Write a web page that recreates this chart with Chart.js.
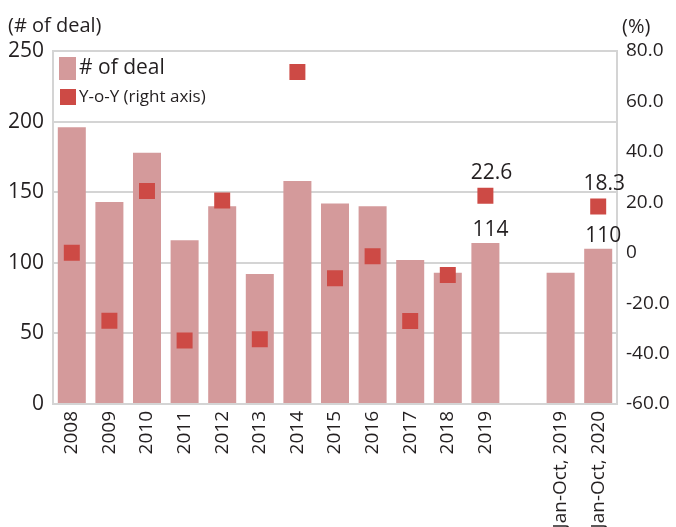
<!DOCTYPE html>
<html>
<head>
<meta charset="utf-8">
<script src="https://cdn.jsdelivr.net/npm/chart.js@4/dist/chart.umd.min.js"></script>
<style>
  html, body { margin: 0; padding: 0; background: #fff; }
  #wrap { width: 676px; height: 527px; position: relative; }
</style>
</head>
<body>
<div id="wrap"><canvas id="c" width="676" height="527"></canvas></div>
<script>
const categories = ['2008','2009','2010','2011','2012','2013','2014','2015','2016','2017','2018','2019','','Jan-Oct, 2019','Jan-Oct, 2020'];
const deals = [196,143,178,116,140,92,158,142,140,102,93,114,null,93,110];
const yoy = [0,-27.0,24.5,-34.8,20.7,-34.3,71.7,-10.1,-1.4,-27.1,-8.8,22.6,null,null,18.3];
const leftTicks = [0,50,100,150,200,250];
const rightTicks = [-60,-40,-20,0,20,40,60,80];
const dealLabelIdx = [11,14];
const yoyLabelIdx = [11,14];
const leftTitle = '(# of deal)';
const rightTitle = '(%)';
const legendDeal = '# of deal';
const legendYoy = 'Y-o-Y (right axis)';

const FONT = '"Open Sans", "Noto Sans", sans-serif';
const TXT = '#231f20';
const BAR = '#d49a9b';
const PT = '#cd4a45';
const GRID = '#d4d4d4';

const overlay = {
  id: 'overlay',
  afterDraw(chart) {
    const ctx = chart.ctx;
    ctx.save();
    ctx.fillStyle = TXT;
    ctx.font = '20px ' + FONT;
    ctx.textBaseline = 'middle';
    ctx.textAlign = 'left';
    ctx.fillText(leftTitle, 8, 26);
    ctx.fillText(rightTitle, 622, 27);
    const barMeta = chart.getDatasetMeta(0);
    const ptMeta = chart.getDatasetMeta(1);
    ctx.font = '21px ' + FONT;
    ctx.textAlign = 'center';
    dealLabelIdx.forEach(i => {
      const el = barMeta.data[i];
      ctx.fillText(String(deals[i]), el.x + 5, el.y - 13);
    });
    yoyLabelIdx.forEach(i => {
      const el = ptMeta.data[i];
      ctx.fillText(yoy[i].toFixed(1), el.x + 6, el.y - 23);
    });
    ctx.fillStyle = BAR;
    ctx.fillRect(59, 57, 17, 23);
    ctx.fillStyle = PT;
    ctx.fillRect(60, 89, 16, 16);
    ctx.fillStyle = TXT;
    ctx.textAlign = 'left';
    ctx.font = '21px ' + FONT;
    ctx.fillText(legendDeal, 79, 68);
    ctx.font = '17px ' + FONT;
    ctx.fillText(legendYoy, 79, 97);
    ctx.restore();
  }
};

new Chart(document.getElementById('c'), {
  data: {
    labels: categories,
    datasets: [
      {
        type: 'bar',
        label: legendDeal,
        data: deals,
        backgroundColor: BAR,
        borderWidth: 0,
        yAxisID: 'y',
        barPercentage: 0.745,
        categoryPercentage: 1.0,
        order: 2
      },
      {
        type: 'line',
        label: legendYoy,
        data: yoy,
        showLine: false,
        pointStyle: 'rect',
        pointRadius: 11.3,
        pointHoverRadius: 11.3,
        pointBackgroundColor: PT,
        pointBorderWidth: 0,
        borderWidth: 0,
        yAxisID: 'y1',
        order: 1
      }
    ]
  },
  options: {
    responsive: false,
    animation: false,
    layout: { padding: { top: 51, left: 0, right: 0, bottom: 0 } },
    plugins: { legend: { display: false }, tooltip: { enabled: false } },
    scales: {
      x: {
        offset: true,
        grid: { display: true, color: 'transparent', drawTicks: false },
        border: { display: true, color: GRID, width: 2 },
        ticks: {
          color: TXT, font: { family: FONT, size: 19 },
          minRotation: 90, maxRotation: 90, autoSkip: false, padding: 7
        },
        afterFit(s) { s.height = 123; }
      },
      y: {
        position: 'left',
        min: 0, max: 250,
        afterBuildTicks(s) { s.ticks = leftTicks.map(v => ({ value: v })); },
        grid: { color: GRID, lineWidth: 2, drawTicks: false },
        border: { display: true, color: GRID, width: 2 },
        ticks: { color: TXT, font: { family: FONT, size: 21 }, padding: 9 },
        afterFit(s) { s.width = 53; }
      },
      y1: {
        position: 'right',
        min: -60, max: 80,
        afterBuildTicks(s) { s.ticks = rightTicks.map(v => ({ value: v })); },
        grid: { display: false, drawTicks: false },
        border: { display: true, color: GRID, width: 2 },
        ticks: {
          color: TXT, font: { family: FONT, size: 19 }, padding: 9,
          callback: v => (v === 0 ? '0' : Number(v).toFixed(1))
        },
        afterFit(s) { s.width = 59; }
      }
    }
  },
  plugins: [overlay]
});
</script>
</body>
</html>
